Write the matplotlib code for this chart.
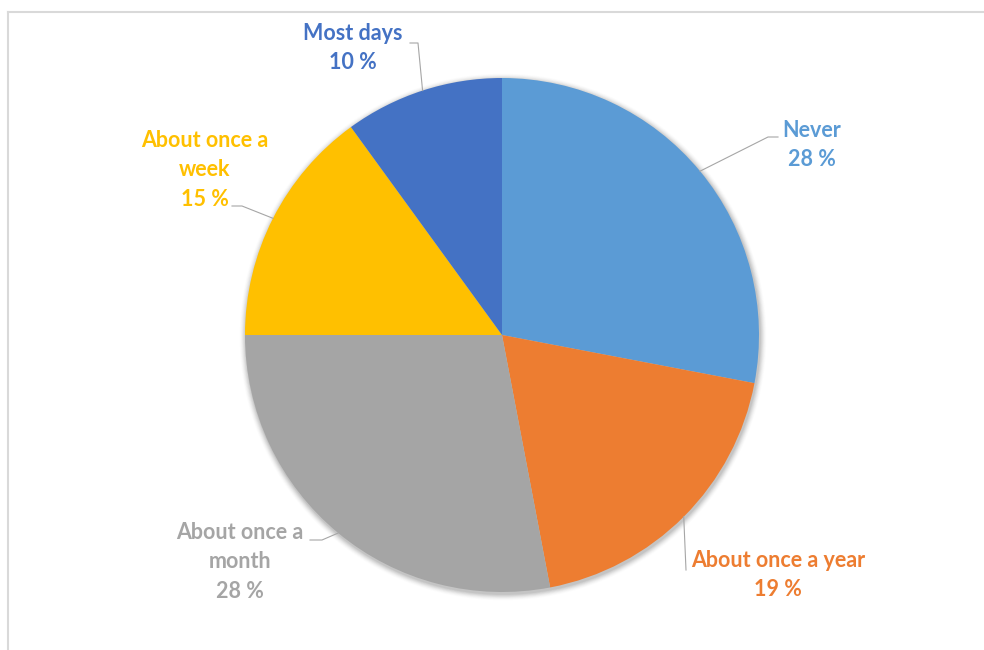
import numpy as np
import matplotlib.pyplot as plt
from matplotlib.lines import Line2D

# Answer shares, clockwise from 12 o'clock
categories = ['Never', 'About once a year', 'About once a\nmonth', 'About once a\nweek', 'Most days']
shares = [28, 19, 28, 15, 10]
colors = ['#5B9BD5', '#ED7D31', '#A5A5A5', '#FFC000', '#4472C4']

W, H = 984, 650
cx, cy, r = 502, H - 335, 257

# label text centre and leader elbow/end (pixel coords, y measured from the top)
label_pos = [(812, 145), (778, 575), (240, 562), (205, 170), (353, 48)]
leader_pts = [[(768, 137), (778, 137)],
              [(686, 570)],
              [(322, 540), (310, 540)],
              [(242, 206), (232, 206)],
              [(418, 43), (410, 43)]]

plt.rcParams['font.family'] = ['Lato', 'DejaVu Sans']

fig = plt.figure(figsize=(W / 100, H / 100), dpi=100)
ax = fig.add_axes([0, 0, 1, 1])

# soft shadow under the pie
for k, a in zip(range(8, 0, -1), np.linspace(0.012, 0.05, 8)):
    ax.add_patch(plt.Circle((cx + 1, cy - 2), r + k * 0.8, color='k', alpha=a, lw=0, zorder=0))

wedges, _ = ax.pie(shares, colors=colors, startangle=90, counterclock=False,
                   center=(cx, cy), radius=r, frame=True,
                   wedgeprops=dict(linewidth=0, antialiased=True))
ax.set_xlim(0, W)
ax.set_ylim(0, H)
ax.set_aspect('equal')
ax.axis('off')

for w, name, val, col, (tx, ty), pts in zip(wedges, categories, shares, colors, label_pos, leader_pts):
    mid = np.deg2rad((w.theta1 + w.theta2) / 2)
    ax0 = cx + r * np.cos(mid)
    ay0 = cy + r * np.sin(mid)
    xs = [ax0] + [p[0] for p in pts]
    ys = [ay0] + [H - p[1] for p in pts]
    ax.plot(xs, ys, color='#A6A6A6', lw=0.8, zorder=3)
    ax.text(tx, H - ty, f'{name}\n{val} %', color=col, fontsize=15.5, fontweight='bold',
            ha='center', va='center', multialignment='center', linespacing=1.5)

# chart area border (runs off the right and bottom edges)
fig.add_artist(Line2D([8 / W, 8 / W], [0, (H - 12) / H], color='#D9D9D9', lw=1.5))
fig.add_artist(Line2D([8 / W, 1], [(H - 12) / H, (H - 12) / H], color='#D9D9D9', lw=1.5))

fig.savefig('out.png', dpi=100, facecolor='white')
